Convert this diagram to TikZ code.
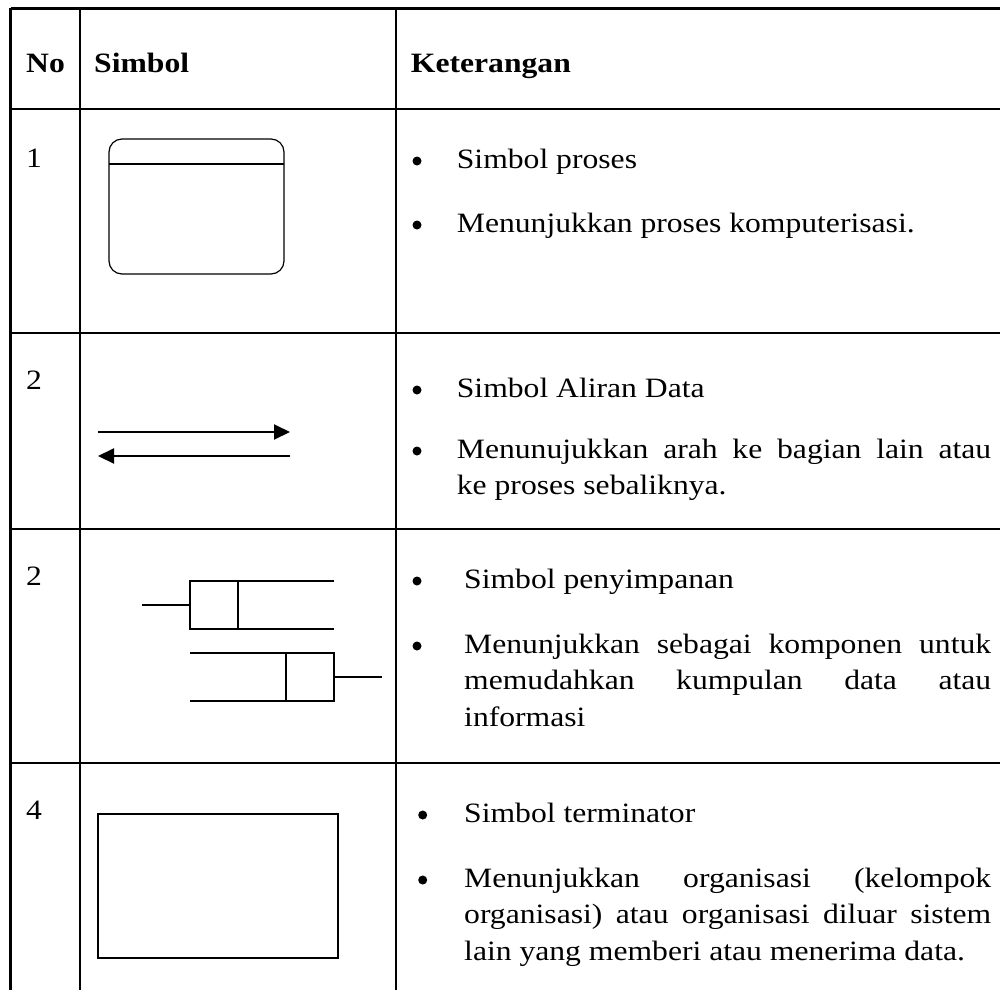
\documentclass[tikz,border=0pt]{standalone}
\usepackage{fontspec}
\setmainfont{Liberation Serif}[FakeStretch=1.13]
\usetikzlibrary{arrows.meta}
\begin{document}
\begin{tikzpicture}[x=1pt,y=-1pt,
  gridline/.style={line width=2.5pt},
  symline/.style={line width=2pt},
  procline/.style={line width=1.2pt},
  txt/.style={anchor=base west,inner sep=0pt,font=\fontsize{28}{36.5}\selectfont},
  hdr/.style={anchor=base west,inner sep=0pt,font=\fontsize{28}{36.5}\selectfont\bfseries},
  bul/.style={fill=black}]
\useasboundingbox (0,0) rectangle (1000,990);
% table grid
\draw[gridline] (10.5,8.5) -- (1000,8.5);
\draw[gridline] (10.5,109) -- (1000,109);
\draw[gridline] (10.5,333) -- (1000,333);
\draw[gridline] (10.5,529) -- (1000,529);
\draw[gridline] (10.5,763) -- (1000,763);
\draw[gridline] (10.5,8.5) -- (10.5,990);
\draw[gridline] (80,8.5) -- (80,990);
\draw[gridline] (396,8.5) -- (396,990);
% header
\node[hdr] (hno) at (26,72) {No};
\node[hdr] (hsim) at (94,72) {Simbol};
\node[hdr] (hket) at (410.7,72) {Keterangan};
% numbers
\node[txt] (n1) at (26,167) {1};
\node[txt] (n2) at (26,389) {2};
\node[txt] (n3) at (26,585) {2};
\node[txt] (n4) at (26,819) {4};
% row 1 symbol: process
\draw[procline,rounded corners=13pt] (109,139) rectangle (284,274);
\draw[procline] (109,164) -- (284,164);
% row 2 symbol: data flow
\coordinate (fa1) at (98,432);
\coordinate (fa2) at (290,432);
\coordinate (fb1) at (290,456);
\coordinate (fb2) at (98,456);
\draw[symline,-{Triangle[length=16pt,width=15pt]}] (fa1) -- (fa2);
\draw[symline,-{Triangle[length=16pt,width=15pt]}] (fb1) -- (fb2);
% row 3 symbol: storage
\draw[symline] (142,604.5) -- (190,604.5);
\draw[symline] (334,581) -- (190,581) -- (190,628.5) -- (334,628.5);
\draw[symline] (238,581) -- (238,628.5);
\draw[symline] (190,652.5) -- (334,652.5) -- (334,700.5) -- (190,700.5);
\draw[symline] (286,652.5) -- (286,700.5);
\draw[symline] (334,676.5) -- (382,676.5);
% row 4 symbol: terminator
\draw[symline] (97.5,813.5) rectangle (337.5,957.5);
% bullets
\fill[bul] (417,161) circle (4.5pt);
\fill[bul] (417,225) circle (4.5pt);
\fill[bul] (417,390) circle (4.5pt);
\fill[bul] (417,451) circle (4.5pt);
\fill[bul] (417,581) circle (4.5pt);
\fill[bul] (417,646) circle (4.5pt);
\fill[bul] (422.7,815) circle (4.5pt);
\fill[bul] (422.7,880) circle (4.5pt);
% descriptions
\node[txt] (d1a) at (456.7,168) {Simbol proses};
\node[txt] (d1b) at (456.7,232) {Menunjukkan proses komputerisasi.};
\node[txt] (d2a) at (456.7,397) {Simbol Aliran Data};
\node[txt] (d2b) at (456.7,458) {\parbox[t]{534.3pt}{Menunujukkan arah ke bagian lain atau\linebreak ke proses sebaliknya.}};
\node[txt] (d3a) at (464,588) {Simbol penyimpanan};
\node[txt] (d3b) at (464,653) {\parbox[t]{527pt}{Menunjukkan sebagai komponen untuk\linebreak memudahkan kumpulan data atau\linebreak informasi}};
\node[txt] (d4a) at (464,822) {Simbol terminator};
\node[txt] (d4b) at (464,887) {\parbox[t]{527pt}{Menunjukkan organisasi (kelompok\linebreak organisasi) atau organisasi diluar sistem\linebreak lain yang memberi atau menerima data.}};
\end{tikzpicture}
\end{document}
